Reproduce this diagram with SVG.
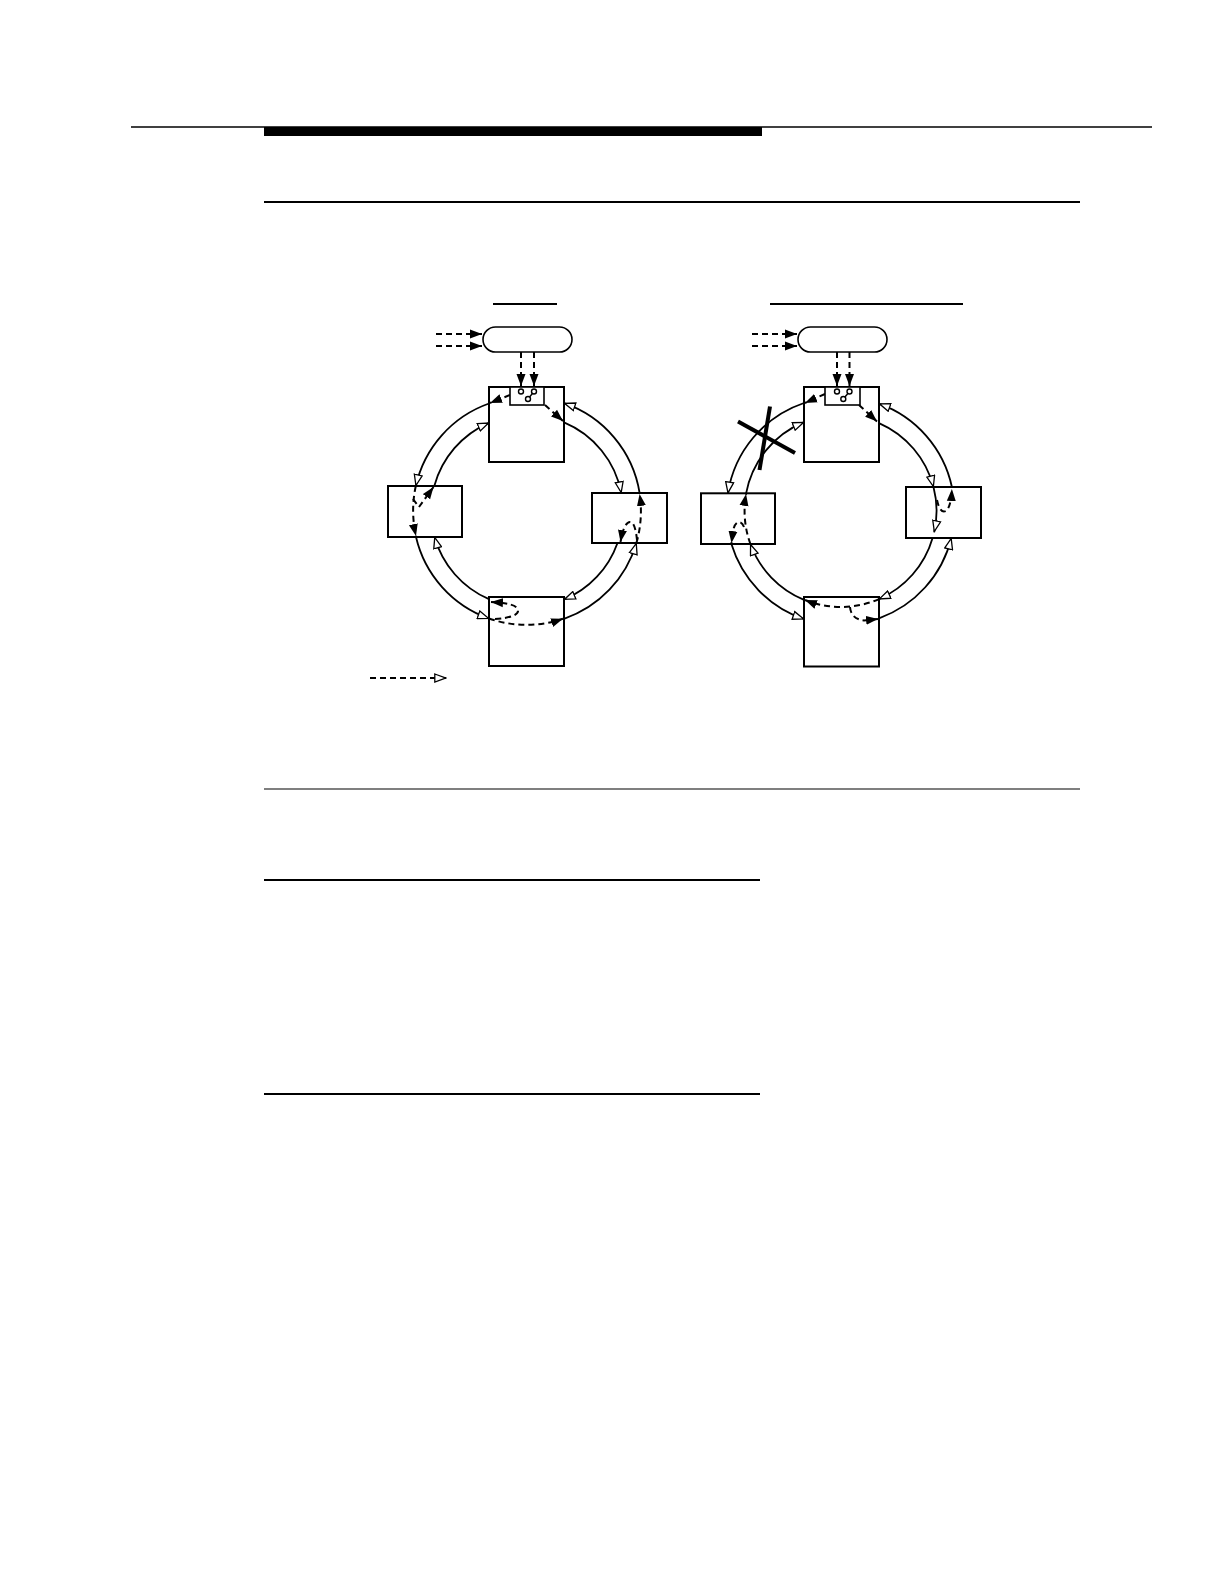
<svg xmlns="http://www.w3.org/2000/svg" width="1224" height="1584" viewBox="0 0 1224 1584">
<style>
.box{fill:#fff;stroke:#000;stroke-width:2}
.sw{fill:#fff;stroke:#000;stroke-width:1.6}
.arc{fill:none;stroke:#000;stroke-width:1.8}
.dash{fill:none;stroke:#000;stroke-width:2;stroke-dasharray:6,4}
.rule{stroke:#000}
.cir{fill:#fff;stroke:#000;stroke-width:1.4}
</style>
<defs>
<marker id="af" markerWidth="13" markerHeight="10" refX="12" refY="5" orient="auto" markerUnits="userSpaceOnUse"><path d="M0,0.5 L12,5 L0,9.5 z" fill="#000"/></marker>
<marker id="ao" markerWidth="13" markerHeight="10" refX="12" refY="5" orient="auto" markerUnits="userSpaceOnUse"><path d="M0.8,1 L11.5,5 L0.8,9 z" fill="#fff" stroke="#000" stroke-width="1.3"/></marker>
</defs>
<rect width="1224" height="1584" fill="#fff"/>
<g id="page-rules">
<line class="rule" x1="131" y1="127" x2="1152" y2="127" stroke-width="1.5"/>
<rect x="264" y="127" width="498" height="9" fill="#000"/>
<line class="rule" x1="264" y1="202" x2="1080" y2="202" stroke-width="2"/>
<line class="rule" x1="264" y1="789" x2="1080" y2="789" stroke-width="1.2"/>
<line class="rule" x1="264" y1="880" x2="760" y2="880" stroke-width="2"/>
<line class="rule" x1="264" y1="1094" x2="760" y2="1094" stroke-width="2"/>
<line class="rule" x1="493" y1="304" x2="557" y2="304" stroke-width="2"/>
<line class="rule" x1="770" y1="304" x2="963" y2="304" stroke-width="2"/>
</g>
<g id="connectors">
<!-- left diagram -->
<path class="dash" d="M436,334 L482,334" marker-end="url(#af)"/>
<path class="dash" d="M436,346 L482,346" marker-end="url(#af)"/>
<path class="dash" d="M521,352 L521,386" marker-end="url(#af)"/>
<path class="dash" d="M534,352 L534,386" marker-end="url(#af)"/>
<path class="dash" d="M510,395 L490,403" marker-end="url(#af)"/>
<path class="dash" d="M545,405 L563,421" marker-end="url(#af)"/>
<path class="arc" d="M489,403.5 A114,114 0 0 0 415.8,486" marker-end="url(#ao)"/>
<path class="arc" d="M416,537 A114,114 0 0 0 489,618.5" marker-end="url(#ao)"/>
<path class="arc" d="M564,618.8 A114,114 0 0 0 636.4,543" marker-end="url(#ao)"/>
<path class="arc" d="M639.6,493 A114,114 0 0 0 564,403.2" marker-end="url(#ao)"/>
<path class="arc" d="M564,422.4 A96,96 0 0 1 621.3,493" marker-end="url(#ao)"/>
<path class="arc" d="M617.5,543 A96,96 0 0 1 564,599.6" marker-end="url(#ao)"/>
<path class="arc" d="M489,599.2 A96,96 0 0 1 434.6,537" marker-end="url(#ao)"/>
<path class="arc" d="M434.3,486 A96,96 0 0 1 489,422.8" marker-end="url(#ao)"/>
<path class="dash" d="M415.8,486 A114,114 0 0 0 416,536" marker-end="url(#af)"/>
<path class="dash" d="M413,499 L419,507 L433.5,487" marker-end="url(#af)"/>
<path class="dash" d="M489,618.5 A114,114 0 0 0 563,618.8" marker-end="url(#af)"/>
<path class="dash" d="M495,619 C510,618 519,615 518,610 C517,605 508,603 491,602" marker-end="url(#af)"/>
<path class="dash" d="M636.4,543 A114,114 0 0 0 639.6,494" marker-end="url(#af)"/>
<path class="dash" d="M637,540 C636,530 634,522 630,522 C625,522 622,533 620.5,542" marker-end="url(#af)"/>
<path class="dash" d="M370,678 L446,678" marker-end="url(#ao)"/>
<!-- right diagram -->
<path class="dash" d="M752,334 L797,334" marker-end="url(#af)"/>
<path class="dash" d="M752,346 L797,346" marker-end="url(#af)"/>
<path class="dash" d="M837,352 L837,386" marker-end="url(#af)"/>
<path class="dash" d="M849.5,352 L849.5,386" marker-end="url(#af)"/>
<path class="dash" d="M825,394 L805,403" marker-end="url(#af)"/>
<path class="dash" d="M859,405 L877,421.5" marker-end="url(#af)"/>
<path class="arc" d="M804,403 A114,114 0 0 0 727.9,493.3" marker-end="url(#ao)"/>
<path class="arc" d="M731.4,544 A114,114 0 0 0 804,619" marker-end="url(#ao)"/>
<path class="arc" d="M879,618.3 A114,114 0 0 0 951.3,538" marker-end="url(#ao)"/>
<path class="arc" d="M951.9,487 A114,114 0 0 0 879,403.7" marker-end="url(#ao)"/>
<path class="arc" d="M879,423.1 A96,96 0 0 1 933.5,487" marker-end="url(#ao)"/>
<path class="arc" d="M933.5,487 A96,96 0 0 1 934.2,532" marker-end="url(#ao)"/>
<path class="arc" d="M932.6,538 A96,96 0 0 1 879,599.1" marker-end="url(#ao)"/>
<path class="arc" d="M804,599.8 A96,96 0 0 1 750.4,544" marker-end="url(#ao)"/>
<path class="arc" d="M746.1,493.3 A96,96 0 0 1 804,422.2" marker-end="url(#ao)"/>
<path class="dash" d="M879,599.1 A96,96 0 0 1 805,600" marker-end="url(#af)"/>
<path class="dash" d="M750.4,544 A96,96 0 0 1 746.1,494" marker-end="url(#af)"/>
<path class="dash" d="M744,527 C741,519 735,521 733,531 L731.5,543" marker-end="url(#af)"/>
<path class="dash" d="M937,500 Q940,514 946,511 Q951,507 951.9,489" marker-end="url(#af)"/>
<path class="dash" d="M850,607 Q851,619 864,620.5 L878,619" marker-end="url(#af)"/>
</g>
<g id="failure-mark">
<line x1="738" y1="421.5" x2="795" y2="453" stroke="#000" stroke-width="4"/>
<line x1="770" y1="406.5" x2="759.5" y2="470" stroke="#000" stroke-width="4"/>
</g>
<g id="L-pill"><rect class="sw" x="483" y="327" width="89" height="25" rx="12.5"/></g>
<g id="L-top"><rect class="box" x="489" y="387" width="75" height="75" fill-opacity="0"/>
<rect class="sw" x="510" y="387" width="34" height="18"/>
<line x1="528" y1="399" x2="534" y2="391.5" stroke="#000" stroke-width="1.4"/>
<circle class="cir" cx="521" cy="391.5" r="2.5"/><circle class="cir" cx="534" cy="391.5" r="2.5"/><circle class="cir" cx="528" cy="399" r="2.5"/></g>
<g id="L-left"><rect class="box" x="388" y="486" width="74" height="51" fill-opacity="0"/></g>
<g id="L-right"><rect class="box" x="592" y="493" width="75" height="50" fill-opacity="0"/></g>
<g id="L-bottom"><rect class="box" x="489" y="597" width="75" height="69" fill-opacity="0"/></g>
<g id="R-pill"><rect class="sw" x="798" y="327" width="89" height="25" rx="12.5"/></g>
<g id="R-top"><rect class="box" x="804" y="387" width="75" height="75" fill-opacity="0"/>
<rect class="sw" x="825" y="387" width="35" height="18"/>
<line x1="843.3" y1="399" x2="849.5" y2="391.5" stroke="#000" stroke-width="1.4"/>
<circle class="cir" cx="837" cy="391.5" r="2.5"/><circle class="cir" cx="849.5" cy="391.5" r="2.5"/><circle class="cir" cx="843.3" cy="399" r="2.5"/></g>
<g id="R-left"><rect class="box" x="701" y="493.3" width="74" height="50.7" fill-opacity="0"/></g>
<g id="R-right"><rect class="box" x="906" y="487" width="75" height="51" fill-opacity="0"/></g>
<g id="R-bottom"><rect class="box" x="804" y="597" width="75" height="69.5" fill-opacity="0"/></g>
</svg>
